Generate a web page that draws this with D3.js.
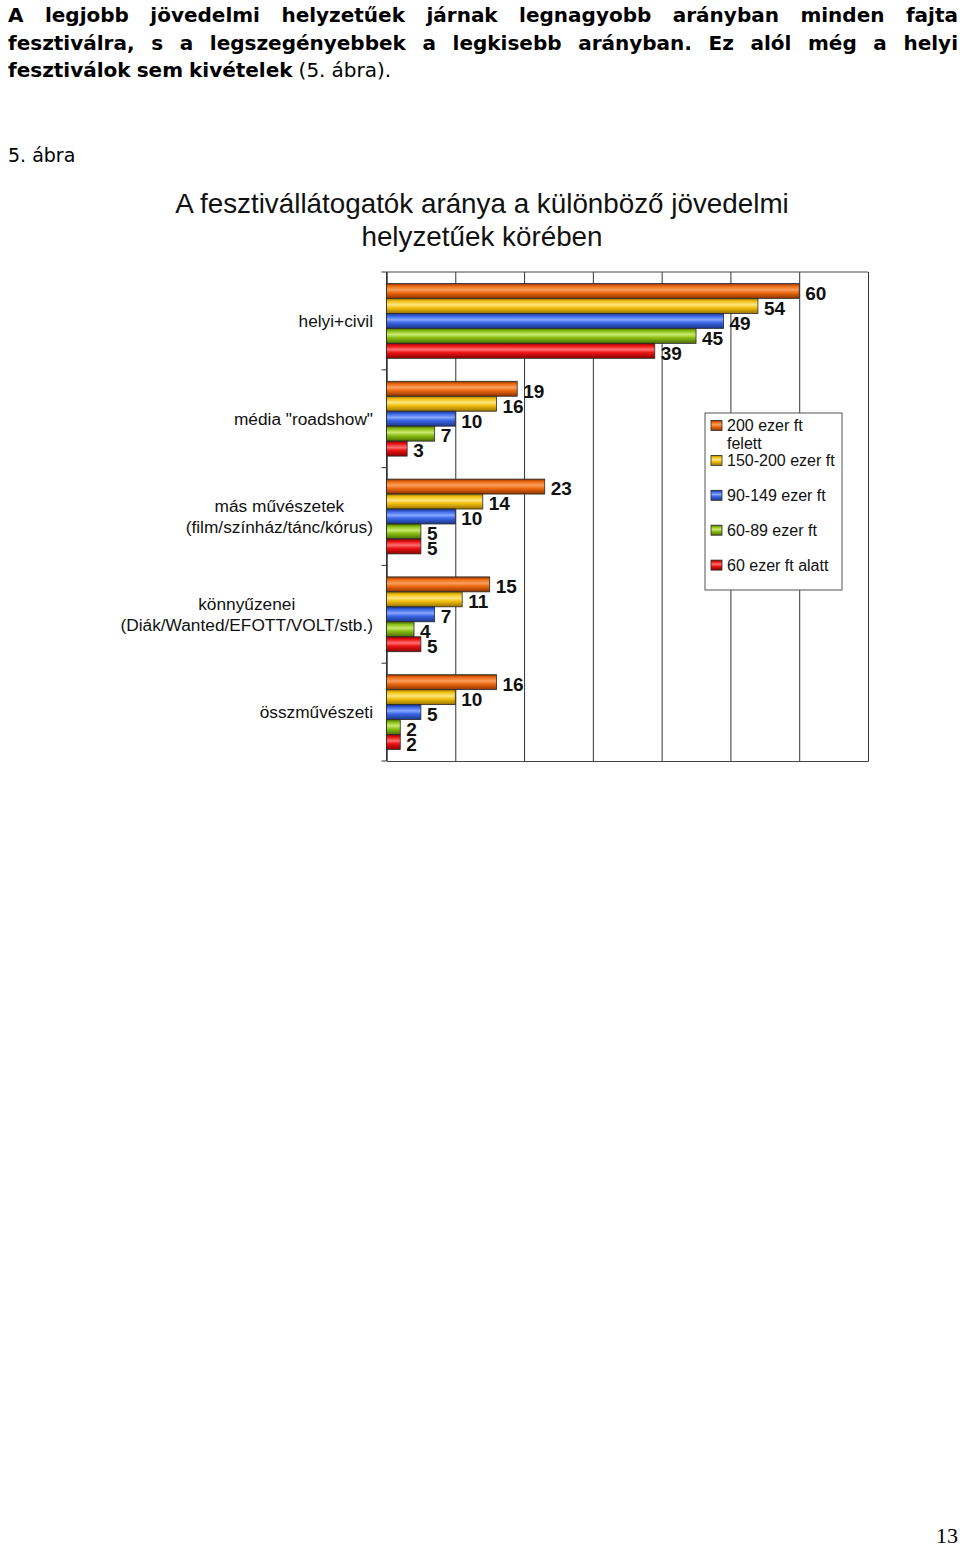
<!DOCTYPE html>
<html>
<head>
<meta charset="utf-8">
<script src="https://cdn.jsdelivr.net/npm/d3@7"></script>
<style>
  body { margin: 0; background: #fff; }
  svg { display: block; }
</style>
</head>
<body>
<svg id="page"></svg>
<script>
// --- data ---
const categories = ["helyi+civil", "média \"roadshow\"", "más művészetek\n(film/színház/tánc/kórus)",
  "könnyűzenei\n(Diák/Wanted/EFOTT/VOLT/stb.)", "összművészeti"];
const seriesNames = ["200 ezer ft\nfelett", "150-200 ezer ft", "90-149 ezer ft", "60-89 ezer ft", "60 ezer ft alatt"];
const over200 = [60, 19, 23, 15, 16];
const from150 = [54, 16, 14, 11, 10];
const from90 = [49, 10, 10, 7, 5];
const from60 = [45, 7, 5, 4, 2];
const under60 = [39, 3, 5, 5, 2];
const gridValues = [0, 10, 20, 30, 40, 50, 60, 70];

const paragraph = [
  "A legjobb jövedelmi helyzetűek járnak legnagyobb arányban minden fajta",
  "fesztiválra, s a legszegényebbek a legkisebb arányban. Ez alól még a helyi",
  "fesztiválok sem kivételek (5. ábra)."
];
const figLabel = "5. ábra";
const titleLines = ["A fesztivállátogatók aránya a különböző jövedelmi", "helyzetűek körében"];
const pageNumber = "13";

// colours: [dark edge, base, highlight]
const palette = [
  ["#8a3400", "#f06a10", "#f9a060"],
  ["#9a7400", "#f3c010", "#fce680"],
  ["#1a3688", "#3a66e6", "#86a8ff"],
  ["#4a6e00", "#8cc016", "#c9ea70"],
  ["#8c0000", "#ec1414", "#ff7070"]
];

const seriesValues = [over200, from150, from90, from60, under60];
const rows = categories.map((c, i) => ({ cat: c, vals: seriesValues.map(s => s[i]) }));

const W = 960, H = 1547;
const svg = d3.select("#page").attr("width", W).attr("height", H);

const defs = svg.append("defs");
palette.forEach((p, i) => {
  const g = defs.append("linearGradient").attr("id", "grad" + i)
    .attr("x1", 0).attr("y1", 0).attr("x2", 0).attr("y2", 1);
  g.append("stop").attr("offset", "0%").attr("stop-color", p[0]);
  g.append("stop").attr("offset", "18%").attr("stop-color", p[1]);
  g.append("stop").attr("offset", "42%").attr("stop-color", p[2]);
  g.append("stop").attr("offset", "62%").attr("stop-color", p[1]);
  g.append("stop").attr("offset", "100%").attr("stop-color", p[0]);
});

// --- paragraph, justified word by word ---
const para = svg.append("g").attr("font-family", "'DejaVu Sans', Verdana, sans-serif")
  .attr("font-size", 20).attr("fill", "#000");
const paraLeft = 8, paraRight = 958;
paragraph.forEach((line, li) => {
  const y = 22 + li * 27.6;
  const words = line.split(" ");
  const last = li === paragraph.length - 1;
  const nodes = words.map((w, wi) => {
    const bold = !(last && wi >= 3);
    return para.append("text").attr("y", y).attr("font-weight", bold ? "bold" : "normal").text(w);
  });
  const widths = nodes.map(n => n.node().getComputedTextLength());
  const total = d3.sum(widths);
  const gap = last ? 6 : (paraRight - paraLeft - total) / (words.length - 1);
  let x = paraLeft;
  nodes.forEach((n, i) => { n.attr("x", x); x += widths[i] + gap; });
});

svg.append("text").attr("x", 8).attr("y", 162)
  .attr("font-family", "'DejaVu Sans', Verdana, sans-serif").attr("font-size", 19)
  .text(figLabel);

// --- chart title ---
const title = svg.append("g").attr("font-family", "'Liberation Sans', Arial, sans-serif")
  .attr("font-size", 27.8).attr("text-anchor", "middle").attr("fill", "#111");
titleLines.forEach((t, i) => {
  title.append("text").attr("x", 482).attr("y", 213 + i * 33).text(t);
});

// --- plot ---
const plotLeft = 386.5, plotRight = 868, plotTop = 272, plotBottom = 761;
const x = d3.scaleLinear().domain([0, 70]).range([plotLeft, plotRight]);
const y0 = d3.scaleBand().domain(categories).range([plotTop, plotBottom])
  .paddingInner(0.235).paddingOuter(0.1175);
const y1 = d3.scaleBand().domain(d3.range(seriesNames.length)).range([0, y0.bandwidth()]);

const plot = svg.append("g");

// gridlines from the x axis
plot.append("g").attr("transform", `translate(0,${plotBottom})`)
  .call(d3.axisBottom(x).tickValues(gridValues).tickSize(-(plotBottom - plotTop)).tickFormat(""))
  .call(g => g.select(".domain").attr("stroke", "#444"))
  .call(g => g.selectAll(".tick line").attr("stroke", "#333").attr("stroke-width", 1));

plot.append("line").attr("x1", plotLeft).attr("x2", plotRight).attr("y1", plotTop).attr("y2", plotTop)
  .attr("stroke", "#444");

// category axis with boundary ticks
const boundaries = categories.map(c => y0(c) - y0.step() * y0.paddingInner() / 2);
boundaries.push(plotBottom);
boundaries[0] = plotTop;
plot.append("line").attr("x1", plotLeft).attr("x2", plotLeft).attr("y1", plotTop).attr("y2", plotBottom)
  .attr("stroke", "#333");
plot.selectAll(".btick").data(boundaries).join("line").attr("class", "btick")
  .attr("x1", plotLeft - 5).attr("x2", plotLeft).attr("y1", d => d).attr("y2", d => d)
  .attr("stroke", "#333");

// bars
const groups = plot.selectAll(".grp").data(rows).join("g").attr("class", "grp")
  .attr("transform", d => `translate(0,${y0(d.cat)})`);
groups.selectAll("rect").data(d => d.vals).join("rect")
  .attr("x", plotLeft)
  .attr("y", (d, i) => y1(i))
  .attr("width", d => x(d) - plotLeft)
  .attr("height", y1.bandwidth())
  .attr("fill", (d, i) => `url(#grad${i})`)
  .attr("stroke", "#2a2a2a").attr("stroke-width", 0.8);
groups.selectAll("text").data(d => d.vals).join("text")
  .attr("x", d => x(d) + 6)
  .attr("y", (d, i) => y1(i) + y1.bandwidth() / 2 + 2)
  .attr("dy", "0.36em")
  .attr("font-family", "'Liberation Sans', Arial, sans-serif")
  .attr("font-size", 19).attr("font-weight", "bold").attr("fill", "#111")
  .text(d => d);

// category labels (block right-aligned, lines centred)
const catG = svg.append("g").attr("font-family", "'Liberation Sans', Arial, sans-serif")
  .attr("font-size", 17.3).attr("fill", "#111").attr("text-anchor", "middle");
const labelRight = 373, lineH = 21;
categories.forEach(c => {
  const lines = c.split("\n");
  const cy = y0(c) + y0.bandwidth() / 2;
  const texts = lines.map((l, i) => catG.append("text")
    .attr("y", cy + (i - (lines.length - 1) / 2) * lineH).attr("dy", "0.36em").text(l));
  const maxW = d3.max(texts, t => t.node().getComputedTextLength());
  texts.forEach(t => t.attr("x", labelRight - maxW / 2));
});

// legend
const leg = svg.append("g").attr("font-family", "'Liberation Sans', Arial, sans-serif")
  .attr("font-size", 16).attr("fill", "#111");
leg.append("rect").attr("x", 705).attr("y", 413).attr("width", 137).attr("height", 177)
  .attr("fill", "#fff").attr("stroke", "#555");
seriesNames.forEach((n, i) => {
  const ry = 425.5 + i * 34.9;
  leg.append("rect").attr("x", 711).attr("y", ry - 5).attr("width", 11).attr("height", 10)
    .attr("fill", `url(#grad${i})`).attr("stroke", "#2a2a2a").attr("stroke-width", 0.8);
  n.split("\n").forEach((l, j) => {
    leg.append("text").attr("x", 727).attr("y", ry + j * 18).attr("dy", "0.36em").text(l);
  });
});

// page number
svg.append("text").attr("x", 958).attr("y", 1543).attr("text-anchor", "end")
  .attr("font-family", "'Liberation Serif', 'Times New Roman', serif").attr("font-size", 22)
  .text(pageNumber);
</script>
</body>
</html>
